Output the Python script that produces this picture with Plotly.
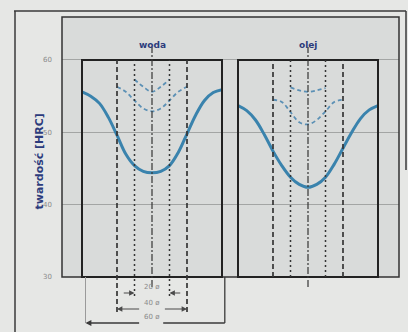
import plotly.graph_objects as go

# ---------------- data ----------------
positions_60 = [-40, -35, -30, -25, -20, -15, -10, -5, 0, 5, 10, 15, 20, 25, 30, 35, 40]
positions_40 = [-20, -15, -10, -5, 0, 5, 10, 15, 20]
positions_20 = [-10, -5, 0, 5, 10]

woda_60 = [55.6, 55.0, 54.0, 52.1, 49.6, 47.0, 45.4, 44.6, 44.4, 44.6, 45.4, 47.2, 49.8, 52.4, 54.4, 55.5, 55.9]
woda_40 = [56.3, 55.6, 54.4, 53.3, 52.9, 53.3, 54.4, 55.6, 56.3]
woda_20 = [57.3, 56.3, 55.6, 56.3, 57.3]

olej_60 = [53.7, 53.0, 51.7, 49.7, 47.4, 45.4, 43.8, 42.8, 42.4, 42.8, 43.8, 45.6, 47.8, 50.0, 51.9, 53.1, 53.7]
olej_40 = [54.5, 54.2, 52.8, 51.4, 51.1, 51.7, 52.9, 54.2, 54.5]
olej_20 = [56.2, 55.8, 55.6, 55.8, 56.1]

panel_titles = ["woda", "olej"]
y_ticks = [30, 40, 50, 60]
y_title = "twardość [HRC]"
diam_labels = ["20 ø", "40 ø", "60 ø"]
ring_positions = [-20, -10, 10, 20]

# ---------------- geometry helpers ----------------
W, H = 408, 332
L, R, T, B = 62, 399, 17, 277
Y_MIN, Y_MAX = 30, 65.94


def px(xp):
    return (xp - L) / (R - L)


def py(yp):
    return (B - yp) / (B - T)


def yd(v):
    return (v - Y_MIN) / (Y_MAX - Y_MIN)


SOLID = "#3a83ad"
DASHC = "#5b90b5"
LINE = "#353535"
NAVY = "#2c3b7c"
GREY_TXT = "#8a8a8a"

fig = go.Figure()
fig.add_trace(go.Scatter(x=[None], y=[None], xaxis="x", yaxis="y", showlegend=False, hoverinfo="skip"))

for xa, v60, v40, v20 in [("x2", woda_60, woda_40, woda_20), ("x3", olej_60, olej_40, olej_20)]:
    fig.add_trace(go.Scatter(x=positions_60, y=v60, xaxis=xa, yaxis="y", mode="lines",
                             line=dict(color=SOLID, width=3, shape="spline"), showlegend=False))
    fig.add_trace(go.Scatter(x=positions_40, y=v40, xaxis=xa, yaxis="y", mode="lines",
                             line=dict(color=DASHC, width=1.8, dash="4px,3px", shape="spline"), showlegend=False))
    fig.add_trace(go.Scatter(x=positions_20, y=v20, xaxis=xa, yaxis="y", mode="lines",
                             line=dict(color=DASHC, width=1.8, dash="4px,3px", shape="spline"), showlegend=False))

shapes = []
annotations = []

# outer frame
shapes.append(dict(type="line", xref="paper", yref="paper", x0=px(14), x1=px(406), y0=py(11), y1=py(11),
                   line=dict(color="#3a3a3a", width=1.5)))
shapes.append(dict(type="line", xref="paper", yref="paper", x0=px(15), x1=px(15), y0=py(11), y1=py(334),
                   line=dict(color="#3a3a3a", width=1.5)))
shapes.append(dict(type="line", xref="paper", yref="paper", x0=px(406), x1=px(406), y0=py(11), y1=py(170),
                   line=dict(color="#3a3a3a", width=1.5)))

# plot area border
shapes.append(dict(type="rect", xref="paper", yref="paper", x0=0, x1=1, y0=0, y1=1,
                   line=dict(color="#333333", width=1.5)))

top = yd(60)
for i, xa in enumerate(["x2", "x3"]):
    # panel rectangle
    shapes.append(dict(type="rect", xref=xa + " domain", yref="paper", x0=0, x1=1, y0=0, y1=top,
                       line=dict(color="#222222", width=2)))
    # vertical ring lines
    for pos in ring_positions:
        outer = abs(pos) == 20
        if i == 0:
            ybot = py(312) if outer else py(296)
        else:
            ybot = 0
        shapes.append(dict(type="line", xref=xa, yref="paper", x0=pos, x1=pos, y0=ybot, y1=top,
                           line=dict(color=LINE, width=1.7 if outer else 1.5,
                                     dash="5px,3px" if outer else "2px,3px")))
    # centre line
    shapes.append(dict(type="line", xref=xa, yref="paper", x0=0, x1=0, y0=py(287), y1=py(47),
                       line=dict(color=LINE, width=1.2, dash="7px,2px,2px,2px")))
    annotations.append(dict(text="<b>%s</b>" % panel_titles[i], xref=xa, x=0, yref="paper", y=py(38),
                            showarrow=False, font=dict(family="DejaVu Sans", size=9, color=NAVY)))

# dimension lines (left panel)
dim_y = [py(293), py(309), py(323)]
for lab, yy in zip(diam_labels, dim_y):
    annotations.append(dict(text=lab, xref="x2", x=0, yref="paper", y=yy, showarrow=False,
                            font=dict(family="DejaVu Sans", size=7, color=GREY_TXT)))
# 20 ø : arrows pointing inward
for head, tail in [(-10, -17), (10, 17)]:
    annotations.append(dict(text="", xref="x2", x=head, yref="paper", y=dim_y[0], axref="x2", ax=tail,
                            ayref="pixel", ay=0, showarrow=True, arrowhead=2, arrowsize=0.9,
                            arrowwidth=1.2, arrowcolor="#4a4a4a"))
# 40 ø : arrows pointing outward
for head, tail in [(-20, -6.5), (20, 6.5)]:
    annotations.append(dict(text="", xref="x2", x=head, yref="paper", y=dim_y[1], axref="x2", ax=tail,
                            ayref="pixel", ay=0, showarrow=True, arrowhead=2, arrowsize=0.9,
                            arrowwidth=1.2, arrowcolor="#4a4a4a"))
# 60 ø
annotations.append(dict(text="", xref="x2", x=-38, yref="paper", y=dim_y[2], axref="x2", ax=-6.5,
                        ayref="pixel", ay=0, showarrow=True, arrowhead=2, arrowsize=0.9,
                        arrowwidth=1.3, arrowcolor="#3a3a3a"))
shapes.append(dict(type="line", xref="x2 domain", yref="paper", x0=0.58, x1=1.02, y0=dim_y[2], y1=dim_y[2],
                   line=dict(color="#3a3a3a", width=1.3)))
shapes.append(dict(type="line", xref="x2 domain", yref="paper", x0=1.02, x1=1.02, y0=dim_y[2], y1=0,
                   line=dict(color="#3a3a3a", width=1.3)))
shapes.append(dict(type="line", xref="x2", yref="paper", x0=-38, x1=-38, y0=dim_y[2], y1=0,
                   line=dict(color="#9a9a9a", width=1)))

# y title
annotations.append(dict(text="<b>%s</b>" % y_title, xref="paper", x=px(30), yref="paper", y=py(162),
                        textangle=-90, showarrow=False, font=dict(family="DejaVu Sans", size=11, color=NAVY)))

fig.update_layout(
    width=W, height=H, autosize=False,
    margin=dict(l=L, r=W - R, t=T, b=H - B, pad=0),
    paper_bgcolor="#e6e7e5", plot_bgcolor="#d9dbda",
    xaxis=dict(domain=[0, 1], range=[0, 1], visible=False, fixedrange=True),
    xaxis2=dict(domain=[px(82), px(222)], range=[-40, 40], visible=False, anchor="y"),
    xaxis3=dict(domain=[px(238), px(378)], range=[-40, 40], visible=False, anchor="y"),
    yaxis=dict(range=[Y_MIN, Y_MAX], tickvals=y_ticks, showgrid=True, gridcolor="#a3a5a4", gridwidth=1,
               zeroline=False, showline=False, ticks="", anchor="x", ticklabelstandoff=9,
               tickfont=dict(family="DejaVu Sans", size=7, color=GREY_TXT)),
    shapes=shapes, annotations=annotations, showlegend=False,
)

fig.write_html("out.html")
